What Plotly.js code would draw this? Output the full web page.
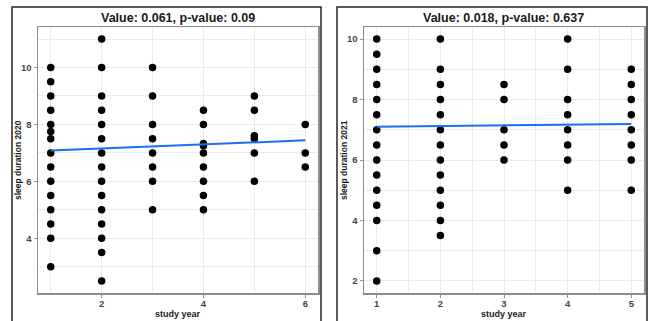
<!DOCTYPE html>
<html>
<head>
<meta charset="utf-8">
<script src="https://cdn.plot.ly/plotly-3.0.1.min.js"></script>
<style>
  html, body { margin: 0; padding: 0; background: #ffffff; }
  #chart { width: 650px; height: 321px; }
</style>
</head>
<body>
<div id="chart"></div>
<script>
// Sleep duration by study year, 2020 survey
const year2020 = [
  1,1,1,1,1,1,1,1,1,1,1,1,1,1,1,
  2,2,2,2,2,2,2,2,2,2,2,2,2,2,2,
  3,3,3,3,3,3,3,3,
  4,4,4,4,4,4,4,4,4,
  5,5,5,5,5,5,
  6,6,6
];
const sleep2020 = [
  10,9.5,9,8.5,8,7.75,7.5,7,6.5,6,5.5,5,4.5,4,3,
  11,10,9,8.5,8,7.5,7,6.5,6,5.5,5,4.5,4,3.5,2.5,
  10,9,8,7.5,7,6.5,6,5,
  8.5,8,7.33,7.25,7,6.5,6,5.5,5,
  9,8.5,7.6,7.5,7,6,
  8,7,6.5
];
// Linear fit, 2020
const fitYear2020 = [1, 6];
const fitSleep2020 = [7.08, 7.44];

// Sleep duration by study year, 2021 survey
const year2021 = [
  1,1,1,1,1,1,1,1,1,1,1,1,1,1,1,
  2,2,2,2,2,2,2,2,2,2,2,2,2,
  3,3,3,3,3,
  4,4,4,4,4,4,4,4,
  5,5,5,5,5,5,5,5
];
const sleep2021 = [
  10,9.5,9,8.5,8,7.5,7,6.5,6,5.5,5,4.5,4,3,2,
  10,9,8.5,8,7.5,7,6.5,6,5.5,5,4.5,4,3.5,
  8.5,8,7,6.5,6,
  10,9,8,7.5,7,6.5,6,5,
  9,8.5,8,7.5,7,6.5,6,5
];
// Linear fit, 2021
const fitYear2021 = [1, 5];
const fitSleep2021 = [7.10, 7.19];

const titles = ["Value: 0.061, p-value: 0.09", "Value: 0.018, p-value: 0.637"];
const xTitle = "study year";
const yTitles = ["sleep duration 2020", "sleep duration 2021"];

const W = 650, H = 321;
const px = v => v / W;
const py = v => 1 - v / H;

const FONT = "Liberation Sans, Arial, sans-serif";
const pointStyle = { color: "#000000", size: 7.5 };
const fitStyle = { color: "#1d6ef5", width: 2 };

const traces = [
  { x: year2020, y: sleep2020, type: "scatter", mode: "markers",
    marker: pointStyle, xaxis: "x", yaxis: "y", hoverinfo: "x+y" },
  { x: fitYear2020, y: fitSleep2020, type: "scatter", mode: "lines",
    line: fitStyle, xaxis: "x", yaxis: "y" },
  { x: year2021, y: sleep2021, type: "scatter", mode: "markers",
    marker: pointStyle, xaxis: "x2", yaxis: "y2", hoverinfo: "x+y" },
  { x: fitYear2021, y: fitSleep2021, type: "scatter", mode: "lines",
    line: fitStyle, xaxis: "x2", yaxis: "y2" }
];

const gridColor = "#ebebeb";
const baseAxis = {
  showline: true, mirror: true, linecolor: "#8e8e8e", linewidth: 1.5,
  showgrid: true, gridcolor: gridColor, gridwidth: 1,
  zeroline: false,
  ticks: "outside", ticklen: 3, tickwidth: 1, tickcolor: "#8e8e8e",
  tickfont: { family: FONT, size: 9.5, color: "#454545", weight: "bold" },
  fixedrange: true
};

function axis(extra) { return Object.assign({}, baseAxis, extra); }

const plotTop = 27, plotBottom = 293;
const yDomain = [py(plotBottom), py(plotTop)];
const leftX = [38, 318], rightX = [364, 644];

const layout = {
  width: W, height: H,
  margin: { l: 0, r: 0, t: 0, b: 0 },
  paper_bgcolor: "#ffffff", plot_bgcolor: "#ffffff",
  showlegend: false,
  xaxis: axis({ domain: [px(leftX[0]), px(leftX[1])], anchor: "y",
    range: [0.75, 6.25], tick0: 0, dtick: 2, ticklabelstandoff: -2,
    minor: { dtick: 1, showgrid: true, gridcolor: gridColor, ticks: "" } }),
  yaxis: axis({ domain: yDomain, anchor: "x",
    range: [2.075, 11.425], tick0: 0, dtick: 2,
    minor: { dtick: 1, showgrid: true, gridcolor: gridColor, ticks: "" } }),
  xaxis2: axis({ domain: [px(rightX[0]), px(rightX[1])], anchor: "y2",
    range: [0.8, 5.2], tick0: 0, dtick: 1, ticklabelstandoff: -2,
    minor: { dtick: 0.5, showgrid: true, gridcolor: gridColor, ticks: "" } }),
  yaxis2: axis({ domain: yDomain, anchor: "x2",
    range: [1.6, 10.4], tick0: 0, dtick: 2,
    minor: { dtick: 1, showgrid: true, gridcolor: gridColor, ticks: "" } }),
  shapes: [
    { type: "rect", xref: "paper", yref: "paper",
      x0: px(12), x1: px(321), y0: -0.05, y1: py(7),
      line: { color: "#262626", width: 1.5 }, layer: "below" },
    { type: "rect", xref: "paper", yref: "paper",
      x0: px(337), x1: px(647), y0: -0.05, y1: py(7),
      line: { color: "#262626", width: 1.5 }, layer: "below" }
  ],
  annotations: [
    { text: "<b>" + titles[0] + "</b>", xref: "paper", yref: "paper",
      x: px((leftX[0] + leftX[1]) / 2), y: py(18), xanchor: "center", yanchor: "middle",
      showarrow: false, font: { family: FONT, size: 12.5, color: "#1a1a1a" } },
    { text: "<b>" + titles[1] + "</b>", xref: "paper", yref: "paper",
      x: px((rightX[0] + rightX[1]) / 2), y: py(18), xanchor: "center", yanchor: "middle",
      showarrow: false, font: { family: FONT, size: 12.5, color: "#1a1a1a" } },
    { text: "<b>" + xTitle + "</b>", xref: "paper", yref: "paper",
      x: px((leftX[0] + leftX[1]) / 2), y: py(314), xanchor: "center", yanchor: "middle",
      showarrow: false, font: { family: FONT, size: 9, color: "#1a1a1a" } },
    { text: "<b>" + xTitle + "</b>", xref: "paper", yref: "paper",
      x: px((rightX[0] + rightX[1]) / 2), y: py(314), xanchor: "center", yanchor: "middle",
      showarrow: false, font: { family: FONT, size: 9, color: "#1a1a1a" } },
    { text: "<b>" + yTitles[0] + "</b>", xref: "paper", yref: "paper",
      x: px(18), y: py((plotTop + plotBottom) / 2), xanchor: "center", yanchor: "middle",
      textangle: -90, showarrow: false, font: { family: FONT, size: 8.5, color: "#1a1a1a" } },
    { text: "<b>" + yTitles[1] + "</b>", xref: "paper", yref: "paper",
      x: px(344), y: py((plotTop + plotBottom) / 2), xanchor: "center", yanchor: "middle",
      textangle: -90, showarrow: false, font: { family: FONT, size: 8.5, color: "#1a1a1a" } }
  ]
};

Plotly.newPlot("chart", traces, layout, { displayModeBar: false, staticPlot: true });
</script>
</body>
</html>
